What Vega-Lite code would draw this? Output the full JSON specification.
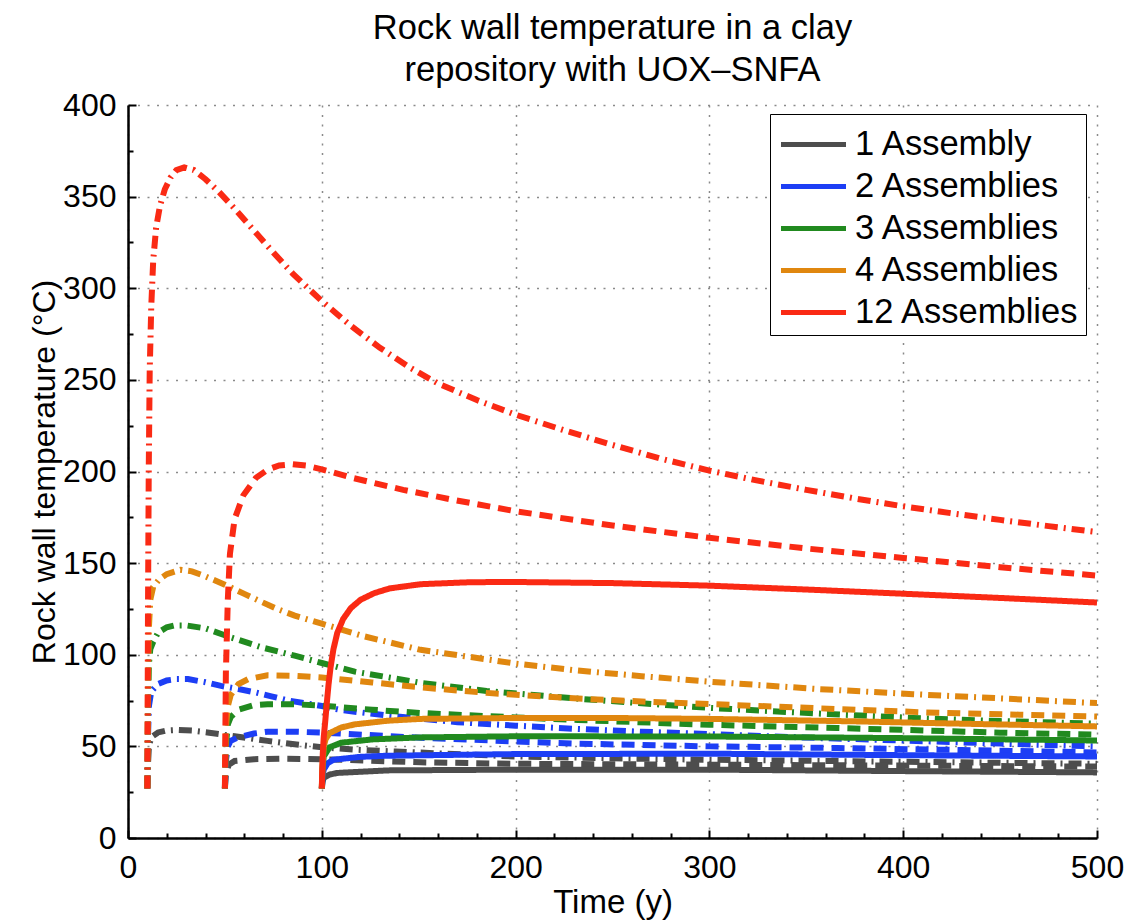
{
  "$schema": "https://vega.github.io/schema/vega-lite/v6.json",
  "width": 969,
  "height": 733,
  "autosize": {"type": "none"},
  "padding": {"left": 128, "top": 105, "right": 33, "bottom": 82},
  "background": "white",
  "config": {
    "font": "Liberation Sans",
    "view": {"stroke": null}
  },
  "title": {
    "text": ["Rock wall temperature in a clay", "repository with UOX–SNFA"],
    "fontSize": 34.5,
    "fontWeight": "normal",
    "color": "black",
    "lineHeight": 42,
    "anchor": "middle",
    "offset": 1
  },
  "data": {
    "values": [
      {"s": "1 Assembly", "st": "dashdot", "t": 10, "T": 27},
      {"s": "1 Assembly", "st": "dashdot", "t": 10.3, "T": 40},
      {"s": "1 Assembly", "st": "dashdot", "t": 10.8, "T": 50},
      {"s": "1 Assembly", "st": "dashdot", "t": 12, "T": 55},
      {"s": "1 Assembly", "st": "dashdot", "t": 15.5, "T": 57.6},
      {"s": "1 Assembly", "st": "dashdot", "t": 20, "T": 58.7},
      {"s": "1 Assembly", "st": "dashdot", "t": 26, "T": 59},
      {"s": "1 Assembly", "st": "dashdot", "t": 33, "T": 58.6},
      {"s": "1 Assembly", "st": "dashdot", "t": 41, "T": 57.6},
      {"s": "1 Assembly", "st": "dashdot", "t": 55, "T": 55.5},
      {"s": "1 Assembly", "st": "dashdot", "t": 72, "T": 53},
      {"s": "1 Assembly", "st": "dashdot", "t": 87, "T": 51},
      {"s": "1 Assembly", "st": "dashdot", "t": 100, "T": 49.5},
      {"s": "1 Assembly", "st": "dashdot", "t": 117, "T": 48.2},
      {"s": "1 Assembly", "st": "dashdot", "t": 138, "T": 47.2},
      {"s": "1 Assembly", "st": "dashdot", "t": 151, "T": 46.6},
      {"s": "1 Assembly", "st": "dashdot", "t": 200, "T": 44.5},
      {"s": "1 Assembly", "st": "dashdot", "t": 250, "T": 43.5},
      {"s": "1 Assembly", "st": "dashdot", "t": 300, "T": 42.7},
      {"s": "1 Assembly", "st": "dashdot", "t": 400, "T": 41.6},
      {"s": "1 Assembly", "st": "dashdot", "t": 500, "T": 40.5},
      {"s": "1 Assembly", "st": "dashed", "t": 50, "T": 27},
      {"s": "1 Assembly", "st": "dashed", "t": 50.5, "T": 35},
      {"s": "1 Assembly", "st": "dashed", "t": 52, "T": 40},
      {"s": "1 Assembly", "st": "dashed", "t": 55, "T": 42},
      {"s": "1 Assembly", "st": "dashed", "t": 65, "T": 43},
      {"s": "1 Assembly", "st": "dashed", "t": 80, "T": 43.3},
      {"s": "1 Assembly", "st": "dashed", "t": 100, "T": 43},
      {"s": "1 Assembly", "st": "dashed", "t": 151, "T": 41.3},
      {"s": "1 Assembly", "st": "dashed", "t": 200, "T": 40.5},
      {"s": "1 Assembly", "st": "dashed", "t": 300, "T": 40},
      {"s": "1 Assembly", "st": "dashed", "t": 400, "T": 39.5},
      {"s": "1 Assembly", "st": "dashed", "t": 500, "T": 39},
      {"s": "1 Assembly", "st": "solid", "t": 100, "T": 27},
      {"s": "1 Assembly", "st": "solid", "t": 100.5, "T": 31},
      {"s": "1 Assembly", "st": "solid", "t": 101, "T": 32.9},
      {"s": "1 Assembly", "st": "solid", "t": 104, "T": 34.6},
      {"s": "1 Assembly", "st": "solid", "t": 108, "T": 35.5},
      {"s": "1 Assembly", "st": "solid", "t": 134, "T": 36.9},
      {"s": "1 Assembly", "st": "solid", "t": 200, "T": 37.3},
      {"s": "1 Assembly", "st": "solid", "t": 300, "T": 37.3},
      {"s": "1 Assembly", "st": "solid", "t": 400, "T": 36.5},
      {"s": "1 Assembly", "st": "solid", "t": 500, "T": 35.8},

      {"s": "2 Assemblies", "st": "dashdot", "t": 10, "T": 27},
      {"s": "2 Assemblies", "st": "dashdot", "t": 10.3, "T": 55},
      {"s": "2 Assemblies", "st": "dashdot", "t": 10.8, "T": 72},
      {"s": "2 Assemblies", "st": "dashdot", "t": 12, "T": 80},
      {"s": "2 Assemblies", "st": "dashdot", "t": 15.5, "T": 84},
      {"s": "2 Assemblies", "st": "dashdot", "t": 20, "T": 86},
      {"s": "2 Assemblies", "st": "dashdot", "t": 25, "T": 86.7},
      {"s": "2 Assemblies", "st": "dashdot", "t": 31, "T": 86.7},
      {"s": "2 Assemblies", "st": "dashdot", "t": 40, "T": 85},
      {"s": "2 Assemblies", "st": "dashdot", "t": 48, "T": 83},
      {"s": "2 Assemblies", "st": "dashdot", "t": 57, "T": 81.3},
      {"s": "2 Assemblies", "st": "dashdot", "t": 65.5, "T": 79.5},
      {"s": "2 Assemblies", "st": "dashdot", "t": 74, "T": 77.3},
      {"s": "2 Assemblies", "st": "dashdot", "t": 83, "T": 75},
      {"s": "2 Assemblies", "st": "dashdot", "t": 100, "T": 72},
      {"s": "2 Assemblies", "st": "dashdot", "t": 110, "T": 69.8},
      {"s": "2 Assemblies", "st": "dashdot", "t": 134, "T": 66.8},
      {"s": "2 Assemblies", "st": "dashdot", "t": 170, "T": 63.2},
      {"s": "2 Assemblies", "st": "dashdot", "t": 200, "T": 61.3},
      {"s": "2 Assemblies", "st": "dashdot", "t": 230, "T": 59.6},
      {"s": "2 Assemblies", "st": "dashdot", "t": 265, "T": 58},
      {"s": "2 Assemblies", "st": "dashdot", "t": 300, "T": 56.7},
      {"s": "2 Assemblies", "st": "dashdot", "t": 358, "T": 54.5},
      {"s": "2 Assemblies", "st": "dashdot", "t": 400, "T": 53.2},
      {"s": "2 Assemblies", "st": "dashdot", "t": 450, "T": 51.5},
      {"s": "2 Assemblies", "st": "dashdot", "t": 500, "T": 50},
      {"s": "2 Assemblies", "st": "dashed", "t": 50, "T": 27},
      {"s": "2 Assemblies", "st": "dashed", "t": 50.5, "T": 42},
      {"s": "2 Assemblies", "st": "dashed", "t": 51.5, "T": 50},
      {"s": "2 Assemblies", "st": "dashed", "t": 53, "T": 53},
      {"s": "2 Assemblies", "st": "dashed", "t": 57, "T": 55},
      {"s": "2 Assemblies", "st": "dashed", "t": 65, "T": 57},
      {"s": "2 Assemblies", "st": "dashed", "t": 72, "T": 58},
      {"s": "2 Assemblies", "st": "dashed", "t": 86, "T": 58},
      {"s": "2 Assemblies", "st": "dashed", "t": 100, "T": 57.5},
      {"s": "2 Assemblies", "st": "dashed", "t": 151, "T": 54.7},
      {"s": "2 Assemblies", "st": "dashed", "t": 200, "T": 52.7},
      {"s": "2 Assemblies", "st": "dashed", "t": 232, "T": 51.5},
      {"s": "2 Assemblies", "st": "dashed", "t": 300, "T": 50},
      {"s": "2 Assemblies", "st": "dashed", "t": 366, "T": 49.1},
      {"s": "2 Assemblies", "st": "dashed", "t": 430, "T": 48},
      {"s": "2 Assemblies", "st": "dashed", "t": 500, "T": 46.7},
      {"s": "2 Assemblies", "st": "solid", "t": 100, "T": 27},
      {"s": "2 Assemblies", "st": "solid", "t": 100.4, "T": 34},
      {"s": "2 Assemblies", "st": "solid", "t": 101, "T": 37.3},
      {"s": "2 Assemblies", "st": "solid", "t": 103, "T": 40.8},
      {"s": "2 Assemblies", "st": "solid", "t": 106, "T": 42.7},
      {"s": "2 Assemblies", "st": "solid", "t": 120, "T": 44.3},
      {"s": "2 Assemblies", "st": "solid", "t": 134, "T": 44.9},
      {"s": "2 Assemblies", "st": "solid", "t": 200, "T": 45.8},
      {"s": "2 Assemblies", "st": "solid", "t": 300, "T": 46},
      {"s": "2 Assemblies", "st": "solid", "t": 400, "T": 45.2},
      {"s": "2 Assemblies", "st": "solid", "t": 500, "T": 44.5},

      {"s": "3 Assemblies", "st": "dashdot", "t": 10, "T": 27},
      {"s": "3 Assemblies", "st": "dashdot", "t": 10.3, "T": 70},
      {"s": "3 Assemblies", "st": "dashdot", "t": 10.8, "T": 95},
      {"s": "3 Assemblies", "st": "dashdot", "t": 11.5, "T": 103},
      {"s": "3 Assemblies", "st": "dashdot", "t": 13, "T": 107},
      {"s": "3 Assemblies", "st": "dashdot", "t": 15.5, "T": 112},
      {"s": "3 Assemblies", "st": "dashdot", "t": 20, "T": 115},
      {"s": "3 Assemblies", "st": "dashdot", "t": 24, "T": 116},
      {"s": "3 Assemblies", "st": "dashdot", "t": 30, "T": 116},
      {"s": "3 Assemblies", "st": "dashdot", "t": 40, "T": 114.4},
      {"s": "3 Assemblies", "st": "dashdot", "t": 53, "T": 109.5},
      {"s": "3 Assemblies", "st": "dashdot", "t": 69, "T": 104},
      {"s": "3 Assemblies", "st": "dashdot", "t": 86, "T": 99.5},
      {"s": "3 Assemblies", "st": "dashdot", "t": 100, "T": 95.5},
      {"s": "3 Assemblies", "st": "dashdot", "t": 117, "T": 90.8},
      {"s": "3 Assemblies", "st": "dashdot", "t": 151, "T": 84.7},
      {"s": "3 Assemblies", "st": "dashdot", "t": 185, "T": 80.2},
      {"s": "3 Assemblies", "st": "dashdot", "t": 230, "T": 76.2},
      {"s": "3 Assemblies", "st": "dashdot", "t": 265, "T": 73.5},
      {"s": "3 Assemblies", "st": "dashdot", "t": 300, "T": 71},
      {"s": "3 Assemblies", "st": "dashdot", "t": 358, "T": 67.8},
      {"s": "3 Assemblies", "st": "dashdot", "t": 405, "T": 65.5},
      {"s": "3 Assemblies", "st": "dashdot", "t": 450, "T": 63.8},
      {"s": "3 Assemblies", "st": "dashdot", "t": 500, "T": 62.4},
      {"s": "3 Assemblies", "st": "dashed", "t": 50, "T": 27},
      {"s": "3 Assemblies", "st": "dashed", "t": 50.5, "T": 50},
      {"s": "3 Assemblies", "st": "dashed", "t": 51.5, "T": 62},
      {"s": "3 Assemblies", "st": "dashed", "t": 53, "T": 66},
      {"s": "3 Assemblies", "st": "dashed", "t": 57, "T": 70},
      {"s": "3 Assemblies", "st": "dashed", "t": 65, "T": 72.5},
      {"s": "3 Assemblies", "st": "dashed", "t": 72, "T": 73},
      {"s": "3 Assemblies", "st": "dashed", "t": 86, "T": 73},
      {"s": "3 Assemblies", "st": "dashed", "t": 100, "T": 72.2},
      {"s": "3 Assemblies", "st": "dashed", "t": 126, "T": 70},
      {"s": "3 Assemblies", "st": "dashed", "t": 151, "T": 68.2},
      {"s": "3 Assemblies", "st": "dashed", "t": 200, "T": 65.8},
      {"s": "3 Assemblies", "st": "dashed", "t": 232, "T": 64.4},
      {"s": "3 Assemblies", "st": "dashed", "t": 300, "T": 61.8},
      {"s": "3 Assemblies", "st": "dashed", "t": 366, "T": 60},
      {"s": "3 Assemblies", "st": "dashed", "t": 400, "T": 59},
      {"s": "3 Assemblies", "st": "dashed", "t": 450, "T": 57.5},
      {"s": "3 Assemblies", "st": "dashed", "t": 500, "T": 56.4},
      {"s": "3 Assemblies", "st": "solid", "t": 100, "T": 27},
      {"s": "3 Assemblies", "st": "solid", "t": 100.4, "T": 38},
      {"s": "3 Assemblies", "st": "solid", "t": 101, "T": 44.5},
      {"s": "3 Assemblies", "st": "solid", "t": 104, "T": 49.5},
      {"s": "3 Assemblies", "st": "solid", "t": 110, "T": 52},
      {"s": "3 Assemblies", "st": "solid", "t": 126, "T": 53.8},
      {"s": "3 Assemblies", "st": "solid", "t": 151, "T": 54.9},
      {"s": "3 Assemblies", "st": "solid", "t": 200, "T": 55.5},
      {"s": "3 Assemblies", "st": "solid", "t": 300, "T": 55.4},
      {"s": "3 Assemblies", "st": "solid", "t": 400, "T": 54.5},
      {"s": "3 Assemblies", "st": "solid", "t": 500, "T": 53.2},

      {"s": "4 Assemblies", "st": "dashdot", "t": 10, "T": 27},
      {"s": "4 Assemblies", "st": "dashdot", "t": 10.3, "T": 80},
      {"s": "4 Assemblies", "st": "dashdot", "t": 10.8, "T": 115},
      {"s": "4 Assemblies", "st": "dashdot", "t": 11.5, "T": 130},
      {"s": "4 Assemblies", "st": "dashdot", "t": 13, "T": 137},
      {"s": "4 Assemblies", "st": "dashdot", "t": 16, "T": 141},
      {"s": "4 Assemblies", "st": "dashdot", "t": 20, "T": 144},
      {"s": "4 Assemblies", "st": "dashdot", "t": 27, "T": 146.4},
      {"s": "4 Assemblies", "st": "dashdot", "t": 33, "T": 145.5},
      {"s": "4 Assemblies", "st": "dashdot", "t": 38, "T": 143.6},
      {"s": "4 Assemblies", "st": "dashdot", "t": 45, "T": 140.5},
      {"s": "4 Assemblies", "st": "dashdot", "t": 52, "T": 137.2},
      {"s": "4 Assemblies", "st": "dashdot", "t": 60, "T": 133.2},
      {"s": "4 Assemblies", "st": "dashdot", "t": 69, "T": 128.8},
      {"s": "4 Assemblies", "st": "dashdot", "t": 77, "T": 125},
      {"s": "4 Assemblies", "st": "dashdot", "t": 86, "T": 121.4},
      {"s": "4 Assemblies", "st": "dashdot", "t": 100, "T": 117},
      {"s": "4 Assemblies", "st": "dashdot", "t": 122, "T": 110},
      {"s": "4 Assemblies", "st": "dashdot", "t": 151, "T": 102.7},
      {"s": "4 Assemblies", "st": "dashdot", "t": 200, "T": 95.2},
      {"s": "4 Assemblies", "st": "dashdot", "t": 230, "T": 91.6},
      {"s": "4 Assemblies", "st": "dashdot", "t": 265, "T": 88.3},
      {"s": "4 Assemblies", "st": "dashdot", "t": 300, "T": 85.3},
      {"s": "4 Assemblies", "st": "dashdot", "t": 356, "T": 81.3},
      {"s": "4 Assemblies", "st": "dashdot", "t": 405, "T": 78.5},
      {"s": "4 Assemblies", "st": "dashdot", "t": 454, "T": 76},
      {"s": "4 Assemblies", "st": "dashdot", "t": 500, "T": 73.6},
      {"s": "4 Assemblies", "st": "dashed", "t": 50, "T": 27},
      {"s": "4 Assemblies", "st": "dashed", "t": 50.5, "T": 60},
      {"s": "4 Assemblies", "st": "dashed", "t": 51.5, "T": 72},
      {"s": "4 Assemblies", "st": "dashed", "t": 53, "T": 78},
      {"s": "4 Assemblies", "st": "dashed", "t": 57, "T": 84},
      {"s": "4 Assemblies", "st": "dashed", "t": 62, "T": 86.7},
      {"s": "4 Assemblies", "st": "dashed", "t": 72, "T": 88.8},
      {"s": "4 Assemblies", "st": "dashed", "t": 86, "T": 88.5},
      {"s": "4 Assemblies", "st": "dashed", "t": 100, "T": 87.6},
      {"s": "4 Assemblies", "st": "dashed", "t": 126, "T": 84.9},
      {"s": "4 Assemblies", "st": "dashed", "t": 151, "T": 82.2},
      {"s": "4 Assemblies", "st": "dashed", "t": 185, "T": 79.2},
      {"s": "4 Assemblies", "st": "dashed", "t": 230, "T": 76.2},
      {"s": "4 Assemblies", "st": "dashed", "t": 265, "T": 74.5},
      {"s": "4 Assemblies", "st": "dashed", "t": 300, "T": 73.1},
      {"s": "4 Assemblies", "st": "dashed", "t": 366, "T": 70.4},
      {"s": "4 Assemblies", "st": "dashed", "t": 410, "T": 68.6},
      {"s": "4 Assemblies", "st": "dashed", "t": 460, "T": 67.3},
      {"s": "4 Assemblies", "st": "dashed", "t": 500, "T": 66.3},
      {"s": "4 Assemblies", "st": "solid", "t": 100, "T": 27},
      {"s": "4 Assemblies", "st": "solid", "t": 100.4, "T": 40},
      {"s": "4 Assemblies", "st": "solid", "t": 101, "T": 50},
      {"s": "4 Assemblies", "st": "solid", "t": 102, "T": 54},
      {"s": "4 Assemblies", "st": "solid", "t": 104, "T": 57.2},
      {"s": "4 Assemblies", "st": "solid", "t": 110, "T": 60.3},
      {"s": "4 Assemblies", "st": "solid", "t": 117, "T": 62},
      {"s": "4 Assemblies", "st": "solid", "t": 134, "T": 64},
      {"s": "4 Assemblies", "st": "solid", "t": 151, "T": 65},
      {"s": "4 Assemblies", "st": "solid", "t": 200, "T": 65.5},
      {"s": "4 Assemblies", "st": "solid", "t": 250, "T": 65.5},
      {"s": "4 Assemblies", "st": "solid", "t": 300, "T": 65},
      {"s": "4 Assemblies", "st": "solid", "t": 378, "T": 63.6},
      {"s": "4 Assemblies", "st": "solid", "t": 420, "T": 62.6},
      {"s": "4 Assemblies", "st": "solid", "t": 500, "T": 60.9},

      {"s": "12 Assemblies", "st": "dashdot", "t": 10, "T": 27},
      {"s": "12 Assemblies", "st": "dashdot", "t": 10.3, "T": 120},
      {"s": "12 Assemblies", "st": "dashdot", "t": 10.7, "T": 200},
      {"s": "12 Assemblies", "st": "dashdot", "t": 11.2, "T": 255},
      {"s": "12 Assemblies", "st": "dashdot", "t": 12, "T": 290},
      {"s": "12 Assemblies", "st": "dashdot", "t": 13, "T": 315},
      {"s": "12 Assemblies", "st": "dashdot", "t": 14.5, "T": 333},
      {"s": "12 Assemblies", "st": "dashdot", "t": 16.5, "T": 345},
      {"s": "12 Assemblies", "st": "dashdot", "t": 19, "T": 354},
      {"s": "12 Assemblies", "st": "dashdot", "t": 22, "T": 360.5},
      {"s": "12 Assemblies", "st": "dashdot", "t": 25, "T": 364.5},
      {"s": "12 Assemblies", "st": "dashdot", "t": 29, "T": 366},
      {"s": "12 Assemblies", "st": "dashdot", "t": 34, "T": 364.5},
      {"s": "12 Assemblies", "st": "dashdot", "t": 40, "T": 359.5},
      {"s": "12 Assemblies", "st": "dashdot", "t": 47, "T": 352.5},
      {"s": "12 Assemblies", "st": "dashdot", "t": 55, "T": 343.5},
      {"s": "12 Assemblies", "st": "dashdot", "t": 65, "T": 331.5},
      {"s": "12 Assemblies", "st": "dashdot", "t": 75, "T": 319.5},
      {"s": "12 Assemblies", "st": "dashdot", "t": 85, "T": 308},
      {"s": "12 Assemblies", "st": "dashdot", "t": 100, "T": 293},
      {"s": "12 Assemblies", "st": "dashdot", "t": 115, "T": 279.5},
      {"s": "12 Assemblies", "st": "dashdot", "t": 130, "T": 267.5},
      {"s": "12 Assemblies", "st": "dashdot", "t": 145, "T": 257},
      {"s": "12 Assemblies", "st": "dashdot", "t": 160, "T": 248},
      {"s": "12 Assemblies", "st": "dashdot", "t": 180, "T": 239},
      {"s": "12 Assemblies", "st": "dashdot", "t": 200, "T": 231},
      {"s": "12 Assemblies", "st": "dashdot", "t": 225, "T": 222.5},
      {"s": "12 Assemblies", "st": "dashdot", "t": 250, "T": 214.5},
      {"s": "12 Assemblies", "st": "dashdot", "t": 275, "T": 207},
      {"s": "12 Assemblies", "st": "dashdot", "t": 300, "T": 200.5},
      {"s": "12 Assemblies", "st": "dashdot", "t": 325, "T": 195},
      {"s": "12 Assemblies", "st": "dashdot", "t": 350, "T": 190},
      {"s": "12 Assemblies", "st": "dashdot", "t": 375, "T": 185.3},
      {"s": "12 Assemblies", "st": "dashdot", "t": 400, "T": 181},
      {"s": "12 Assemblies", "st": "dashdot", "t": 425, "T": 177.2},
      {"s": "12 Assemblies", "st": "dashdot", "t": 450, "T": 173.6},
      {"s": "12 Assemblies", "st": "dashdot", "t": 475, "T": 170.2},
      {"s": "12 Assemblies", "st": "dashdot", "t": 500, "T": 167},
      {"s": "12 Assemblies", "st": "dashed", "t": 50, "T": 27},
      {"s": "12 Assemblies", "st": "dashed", "t": 50.5, "T": 90},
      {"s": "12 Assemblies", "st": "dashed", "t": 51.5, "T": 130},
      {"s": "12 Assemblies", "st": "dashed", "t": 52.6, "T": 155},
      {"s": "12 Assemblies", "st": "dashed", "t": 55, "T": 174},
      {"s": "12 Assemblies", "st": "dashed", "t": 59.5, "T": 187},
      {"s": "12 Assemblies", "st": "dashed", "t": 66, "T": 196.5},
      {"s": "12 Assemblies", "st": "dashed", "t": 72, "T": 201},
      {"s": "12 Assemblies", "st": "dashed", "t": 78, "T": 203.3},
      {"s": "12 Assemblies", "st": "dashed", "t": 85, "T": 204},
      {"s": "12 Assemblies", "st": "dashed", "t": 92, "T": 203.2},
      {"s": "12 Assemblies", "st": "dashed", "t": 100, "T": 201.2},
      {"s": "12 Assemblies", "st": "dashed", "t": 116, "T": 196.5},
      {"s": "12 Assemblies", "st": "dashed", "t": 142, "T": 190},
      {"s": "12 Assemblies", "st": "dashed", "t": 168, "T": 184.5},
      {"s": "12 Assemblies", "st": "dashed", "t": 200, "T": 178.3},
      {"s": "12 Assemblies", "st": "dashed", "t": 250, "T": 170.5},
      {"s": "12 Assemblies", "st": "dashed", "t": 300, "T": 163.8},
      {"s": "12 Assemblies", "st": "dashed", "t": 350, "T": 158},
      {"s": "12 Assemblies", "st": "dashed", "t": 400, "T": 152.8},
      {"s": "12 Assemblies", "st": "dashed", "t": 450, "T": 147.8},
      {"s": "12 Assemblies", "st": "dashed", "t": 500, "T": 143.2},
      {"s": "12 Assemblies", "st": "solid", "t": 100, "T": 27},
      {"s": "12 Assemblies", "st": "solid", "t": 100.2, "T": 36},
      {"s": "12 Assemblies", "st": "solid", "t": 100.5, "T": 46},
      {"s": "12 Assemblies", "st": "solid", "t": 101, "T": 55},
      {"s": "12 Assemblies", "st": "solid", "t": 101.8, "T": 64},
      {"s": "12 Assemblies", "st": "solid", "t": 102.7, "T": 75},
      {"s": "12 Assemblies", "st": "solid", "t": 103.5, "T": 84},
      {"s": "12 Assemblies", "st": "solid", "t": 104.5, "T": 93},
      {"s": "12 Assemblies", "st": "solid", "t": 106, "T": 103},
      {"s": "12 Assemblies", "st": "solid", "t": 108, "T": 112},
      {"s": "12 Assemblies", "st": "solid", "t": 111, "T": 119.5},
      {"s": "12 Assemblies", "st": "solid", "t": 115, "T": 125.5},
      {"s": "12 Assemblies", "st": "solid", "t": 120, "T": 130},
      {"s": "12 Assemblies", "st": "solid", "t": 127, "T": 133.6},
      {"s": "12 Assemblies", "st": "solid", "t": 135, "T": 136.2},
      {"s": "12 Assemblies", "st": "solid", "t": 151, "T": 138.5},
      {"s": "12 Assemblies", "st": "solid", "t": 177, "T": 139.6},
      {"s": "12 Assemblies", "st": "solid", "t": 200, "T": 139.7},
      {"s": "12 Assemblies", "st": "solid", "t": 250, "T": 139.1},
      {"s": "12 Assemblies", "st": "solid", "t": 300, "T": 137.7},
      {"s": "12 Assemblies", "st": "solid", "t": 350, "T": 135.6},
      {"s": "12 Assemblies", "st": "solid", "t": 400, "T": 133.3},
      {"s": "12 Assemblies", "st": "solid", "t": 450, "T": 131},
      {"s": "12 Assemblies", "st": "solid", "t": 500, "T": 128.5}
    ]
  },
  "mark": {"type": "line", "strokeWidth": 6, "strokeCap": "butt", "clip": true},
  "encoding": {
    "x": {
      "field": "t",
      "type": "quantitative",
      "scale": {"domain": [0, 500], "nice": false},
      "axis": {
        "title": "Time (y)",
        "titleFontSize": 33,
        "titleFontWeight": "normal",
        "titleColor": "black",
        "titlePadding": 0,
        "values": [0,20,40,60,80,100,120,140,160,180,200,220,240,260,280,300,320,340,360,380,400,420,440,460,480,500],
        "labelExpr": "datum.value % 100 === 0 ? datum.label : ''",
        "labelOverlap": false,
        "labelFontSize": 32,
        "labelColor": "black",
        "labelPadding": 22,
        "labelFlush": false,
        "domainColor": "black",
        "domainWidth": 2.5,
        "tickColor": "black",
        "tickWidth": 2,
        "tickSize": {"condition": {"test": "datum.value % 100 === 0", "value": -8}, "value": -5},
        "grid": true,
        "gridColor": "#8a8a8a",
        "gridDash": [2, 7.5],
        "gridWidth": 1.5,
        "gridOpacity": {"condition": {"test": "datum.value % 100 === 0", "value": 1}, "value": 0}
      }
    },
    "y": {
      "field": "T",
      "type": "quantitative",
      "scale": {"domain": [0, 400], "nice": false},
      "axis": {
        "title": "Rock wall temperature (°C)",
        "titleFontSize": 32,
        "titleFontWeight": "normal",
        "titleColor": "black",
        "titlePadding": 1,
        "values": [0,25,50,75,100,125,150,175,200,225,250,275,300,325,350,375,400],
        "labelExpr": "datum.value % 50 === 0 ? datum.label : ''",
        "labelOverlap": false,
        "labelFontSize": 32,
        "labelColor": "black",
        "labelPadding": 20,
        "labelFlush": false,
        "domainColor": "black",
        "domainWidth": 2.5,
        "tickColor": "black",
        "tickWidth": 2,
        "tickSize": {"condition": {"test": "datum.value % 50 === 0", "value": -8}, "value": -5},
        "grid": true,
        "gridColor": "#8a8a8a",
        "gridDash": [2, 7.5],
        "gridWidth": 1.5,
        "gridOpacity": {"condition": {"test": "datum.value % 50 === 0", "value": 1}, "value": 0}
      }
    },
    "color": {
      "field": "s",
      "type": "nominal",
      "scale": {
        "domain": ["1 Assembly", "2 Assemblies", "3 Assemblies", "4 Assemblies", "12 Assemblies"],
        "range": ["#4d4d4d", "#1d3ef5", "#218a1f", "#e0870f", "#fa2a14"]
      },
      "legend": {
        "orient": "none",
        "legendX": 642,
        "legendY": 9,
        "title": null,
        "symbolType": "M-1.5,0H1.5",
        "symbolSize": 1878,
        "symbolStrokeWidth": 5,
        "symbolOffset": 13,
        "labelFontSize": 34.5,
        "labelColor": "black",
        "labelLimit": 400,
        "rowPadding": 1,
        "strokeColor": "black",
        "fillColor": "white",
        "padding": 6,
        "labelOffset": 17
      }
    },
    "strokeDash": {
      "field": "st",
      "type": "nominal",
      "scale": {
        "domain": ["dashdot", "dashed", "solid"],
        "range": [[13, 6, 2, 6], [13, 8], [1, 0]]
      },
      "legend": null
    }
  }
}
